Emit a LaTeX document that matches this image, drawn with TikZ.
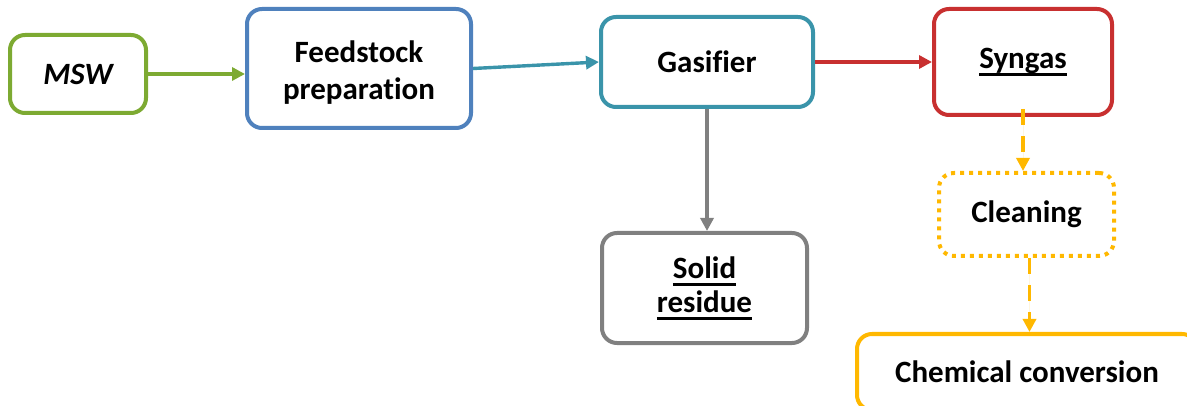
\documentclass[tikz,border=0pt]{standalone}
\usepackage{fontspec}
\setmainfont{Carlito}[Ligatures=NoCommon]
\usetikzlibrary{arrows.meta}
\definecolor{cgreen}{RGB}{125,170,50}
\definecolor{cblue}{RGB}{79,129,189}
\definecolor{cteal}{RGB}{58,148,170}
\definecolor{cred}{RGB}{200,48,48}
\definecolor{cgray}{RGB}{128,128,128}
\definecolor{cyellow}{RGB}{255,184,0}
\newcommand{\ulx}[1]{\setbox0\hbox{#1}\rlap{\rule[-7.5pt]{\wd0}{2.6pt}}\box0}
\tikzset{
  box/.style={draw, line width=4pt, rounded corners=15pt, fill=white, align=center,
    font=\fontsize{31}{37}\selectfont\bfseries, inner sep=0pt},
  conn/.style={line width=3.4pt, -{Triangle[length=13pt,width=13pt]}},
  dconn/.style={conn, draw=cyellow, dash pattern=on 16pt off 11pt},
}
\begin{document}
\begin{tikzpicture}[x=1pt,y=1pt]
\useasboundingbox (0,0) rectangle (1187,-406);
\clip (0,0) rectangle (1187,-406);
\node[box, draw=cgreen, minimum width=136pt, minimum height=78pt] (msw) at (78,-74) {\itshape MSW};
\node[box, draw=cblue, minimum width=224pt, minimum height=119pt, text depth=0pt] (feed) at (359,-68.5) {\raisebox{-3pt}{Feedstock}\\\raisebox{-3pt}{preparation}};
\node[box, draw=cteal, minimum width=212pt, minimum height=90pt] (gas) at (707,-62) {Gasifier};
\node[box, draw=cred, minimum width=178pt, minimum height=106pt] (syn) at (1023,-62) {\ulx{Syngas}};
\node[box, draw=cgray, minimum width=205pt, minimum height=110pt, font=\fontsize{31}{34}\selectfont\bfseries] (solid) at (704.5,-288) {\ulx{Solid}\\\ulx{residue}};
\node[box, draw=cyellow, dash pattern=on 4pt off 5pt, minimum width=175pt, minimum height=83pt] (clean) at (1026.5,-214.5) {Cleaning};
\node[box, draw=cyellow, minimum width=340pt, minimum height=76pt] (chem) at (1027,-372) {Chemical conversion};
\draw[conn, draw=cgreen, fill=cgreen] (msw.east) -- (msw.east -| feed.west);
\draw[conn, draw=cteal, fill=cteal] (feed.east) -- (gas.west);
\draw[conn, draw=cred, fill=cred] (gas) -- (syn);
\draw[conn, draw=cgray, fill=cgray] (gas.south) -- (gas.south |- solid.north);
\draw[dconn, fill=cyellow] ([yshift=8pt]syn.south) -- (syn.south |- clean.north);
\draw[dconn, fill=cyellow] ([xshift=3pt]clean.south) -- ([xshift=3pt]clean.south |- chem.north);
\end{tikzpicture}
\end{document}
